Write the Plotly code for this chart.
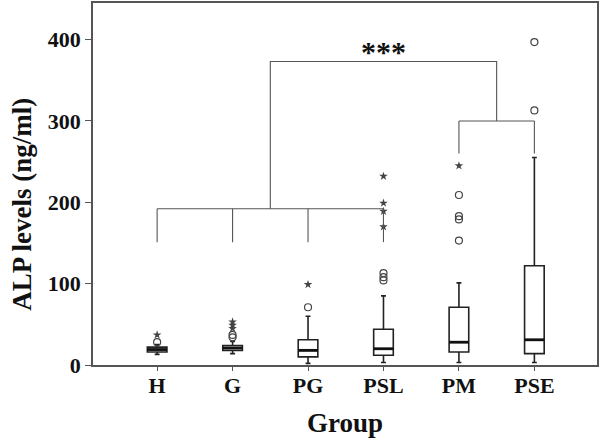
import plotly.graph_objects as go

categories = ["H", "G", "PG", "PSL", "PM", "PSE"]
q1 = [16, 18, 10, 12, 16, 14]
median = [19, 21, 18, 20, 28, 31]
q3 = [22, 24, 31, 44, 71, 122]
lowerfence = [13, 14, 2, 3, 3, 3]
upperfence = [25, 29, 60, 85, 101, 255]

# outliers (circles) and extremes (stars)
circle_x = ["H", "G", "G", "PG", "PSL", "PSL", "PSL", "PM", "PM", "PM", "PM", "PSE", "PSE"]
circle_y = [28, 34, 37, 71, 104, 108, 113, 153, 179, 183, 209, 313, 397]
star_x = ["H", "G", "G", "G", "PG", "PSL", "PSL", "PSL", "PSL", "PM"]
star_y = [37, 45, 49, 53, 99, 170, 189, 199, 232, 245]

# significance brackets: lower group bracket over H..PSL, upper over PM..PSE
lower_groups = ["H", "G", "PG", "PSL"]
upper_groups = ["PM", "PSE"]
lower_bar, lower_leg = 192, 151
upper_bar, upper_leg = 300, 260
top_bar = 373
sig_label = "***"
sig_y = 386

yticks = [0, 100, 200, 300, 400]

idx = {c: i for i, c in enumerate(categories)}
BOX_W = 0.26
FONT = "Liberation Serif"

fig = go.Figure()
fig.add_trace(go.Box(
    x=list(range(len(categories))), q1=q1, median=median, q3=q3,
    lowerfence=lowerfence, upperfence=upperfence,
    width=BOX_W, whiskerwidth=0.25, boxpoints=False,
    fillcolor="white", line=dict(color="#222", width=1.6),
    showlegend=False, hoverinfo="skip"))

# thicker medians
mx, my = [], []
for i, m in enumerate(median):
    mx += [i - BOX_W / 2, i + BOX_W / 2, None]
    my += [m, m, None]
fig.add_trace(go.Scatter(x=mx, y=my, mode="lines", line=dict(color="#111", width=2.8),
                         showlegend=False, hoverinfo="skip"))

fig.add_trace(go.Scatter(x=[idx[c] for c in circle_x], y=circle_y, mode="markers",
                         marker=dict(symbol="circle-open", size=7, color="#444", line=dict(width=1.2)),
                         showlegend=False))
fig.add_trace(go.Scatter(x=[idx[c] for c in star_x], y=star_y, mode="markers",
                         marker=dict(symbol="star", size=6.5, color="#444"),
                         showlegend=False))

# brackets
lo = [idx[c] for c in lower_groups]
up = [idx[c] for c in upper_groups]
lo_mid = (lo[1] + lo[2]) / 2
up_mid = (up[0] + up[1]) / 2
bx, by = [], []
for p in lo:
    bx += [p, p, None]; by += [lower_leg, lower_bar, None]
bx += [lo[0], lo[-1], None]; by += [lower_bar, lower_bar, None]
for p in up:
    bx += [p, p, None]; by += [upper_leg, upper_bar, None]
bx += [up[0], up[-1], None]; by += [upper_bar, upper_bar, None]
bx += [lo_mid, lo_mid, up_mid, up_mid]; by += [lower_bar, top_bar, top_bar, upper_bar]
fig.add_trace(go.Scatter(x=bx, y=by, mode="lines", line=dict(color="#555", width=1.1),
                         showlegend=False, hoverinfo="skip"))

fig.add_annotation(x=(lo_mid + up_mid) / 2, y=sig_y, text="<b>%s</b>" % sig_label, showarrow=False,
                   font=dict(family=FONT, size=30, color="#111"), yanchor="middle")

fig.add_annotation(text="<b>ALP levels (ng/ml)</b>", xref="paper", yref="paper",
                   x=-0.141, y=0.445, textangle=-90, showarrow=False,
                   xanchor="center", yanchor="middle",
                   font=dict(family=FONT, size=27, color="#111"))
fig.add_annotation(text="<b>Group</b>", xref="paper", yref="paper",
                   x=0.5, y=-0.159, yanchor="middle", showarrow=False,
                   font=dict(family=FONT, size=27, color="#111"))

fig.update_layout(
    width=600, height=441, margin=dict(l=93, r=3, t=1, b=76),
    plot_bgcolor="white", paper_bgcolor="white",
    xaxis=dict(range=[-0.85, 5.83], tickvals=list(range(len(categories))),
               ticktext=["<b>%s</b>" % c for c in categories],
               showgrid=False, zeroline=False, ticks="outside", ticklen=4, tickcolor="#555",
               showline=True, linecolor="#555", linewidth=1.5, mirror=True,
               ticklabelstandoff=-4,
               tickfont=dict(family=FONT, size=22, color="#111")),
    yaxis=dict(range=[0, 445], tickvals=yticks, ticktext=["<b>%d</b>" % v for v in yticks],
               showgrid=False, zeroline=False, ticks="outside", ticklen=6, tickcolor="#555",
               showline=True, linecolor="#555", linewidth=1.5, mirror=True,
               tickfont=dict(family=FONT, size=22, color="#111")),
)
fig.write_html("out.html", config={"displayModeBar": False},
               post_script="document.body.style.margin='0';")
